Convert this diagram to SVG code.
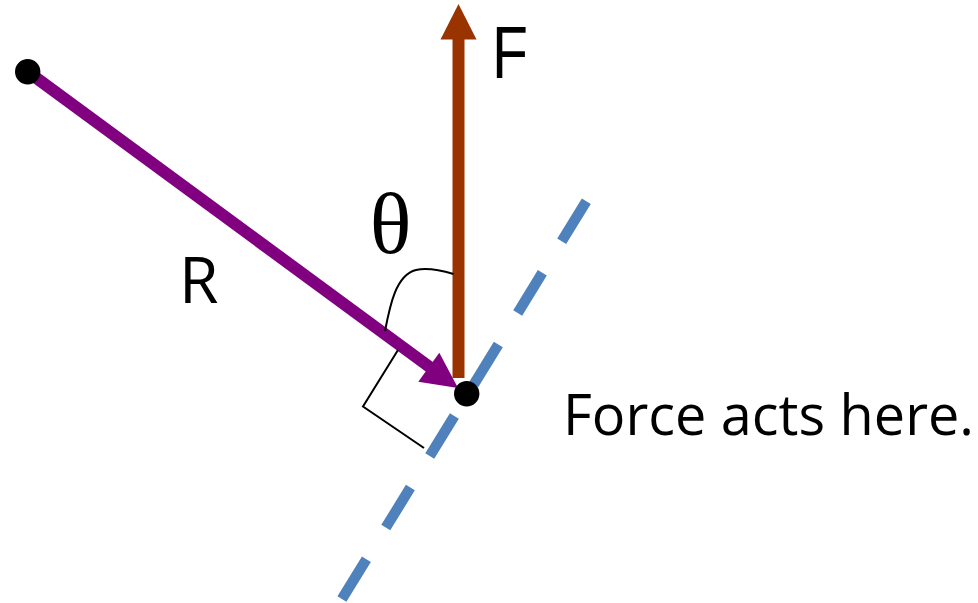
<svg xmlns="http://www.w3.org/2000/svg" width="978" height="603" viewBox="0 0 978 603">
  <style>
    .lbl { font-family: "Open Sans", "Noto Sans", sans-serif; fill: #000; }
    .lbl2 { font-family: "Liberation Sans", "Arial", sans-serif; fill: #000; }
    .greek { font-family: "Liberation Serif", "DejaVu Serif", serif; fill: #000; }
    .thin { fill: none; stroke: #000; stroke-width: 2; }
    .dot { fill: #000; }
  </style>
  <rect width="978" height="603" fill="#fff"/>
  <g id="connectors">
    <path id="line-of-action" d="M 586.3 201.3 L 341.9 599" fill="none" stroke="#4f81bd" stroke-width="10.5" stroke-dasharray="47 37"/>
    <g id="force-F">
      <rect x="452.5" y="38" width="12" height="340" fill="#993300"/>
      <polygon points="458.5,4 440.5,39.5 476.5,39.5" fill="#993300"/>
    </g>
    <g id="vector-R">
      <line x1="27.7" y1="71.7" x2="431" y2="368" stroke="#800080" stroke-width="12"/>
      <polygon points="458,388 418.3,381.7 439.3,352.7" fill="#800080"/>
    </g>
    <path id="theta-arc" class="thin" d="M 453.5 274 C 440 270, 425 268, 416 270 C 396 275, 390 305, 385 331"/>
    <path id="right-angle" class="thin" d="M 398 350 L 363 406.5 L 424 448"/>
  </g>
  <g id="dot-origin"><circle class="dot" cx="27.7" cy="71.7" r="12.7"/></g>
  <g id="dot-point"><circle class="dot" cx="466.7" cy="393.7" r="12.7"/></g>
  <g id="label-F"><text class="lbl2" x="492" y="78.3" font-size="75" textLength="36" lengthAdjust="spacingAndGlyphs">F</text></g>
  <g id="label-R"><text class="lbl" x="179" y="303.3" font-size="64">R</text></g>
  <g id="label-theta"><text class="greek" x="390.7" y="253" font-size="87" text-anchor="middle">θ</text></g>
  <g id="label-force"><text class="lbl" x="563" y="435" font-size="56" textLength="411" lengthAdjust="spacingAndGlyphs">Force acts here.</text></g>
</svg>
